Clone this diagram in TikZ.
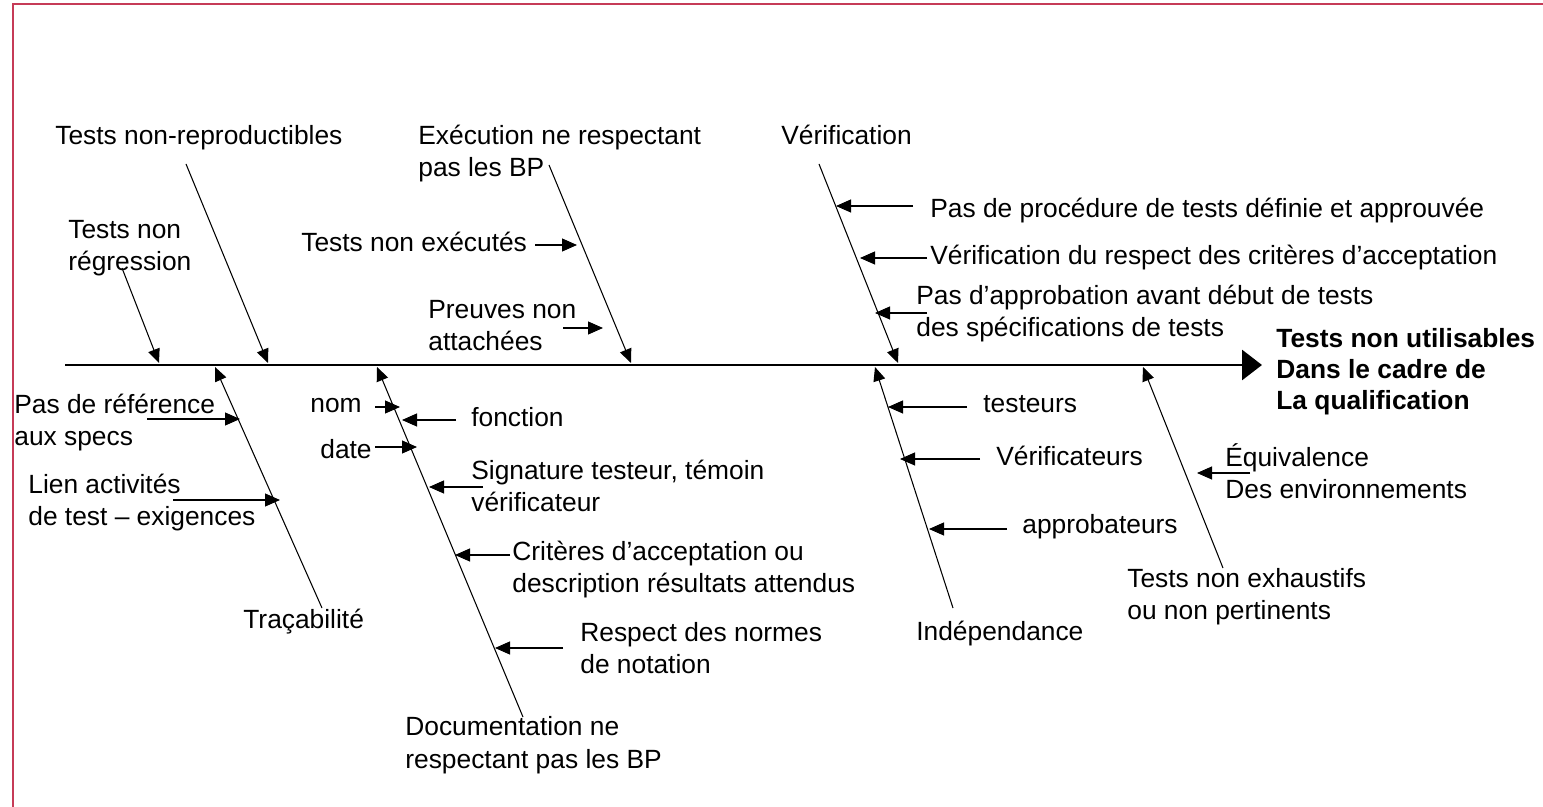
\documentclass[tikz,border=0pt]{standalone}
\usepackage{fontspec}
\setmainfont{Liberation Sans}
\usetikzlibrary{arrows.meta}
\definecolor{fishFrame}{HTML}{C63B57}
\newcommand{\causefont}{\fontsize{15}{18.7}\selectfont}
\newcommand{\effectfont}{\fontsize{15}{17.9}\selectfont\bfseries}
\tikzset{
  cause/.style={anchor=base west,inner sep=0pt,align=left,font=\causefont},
  effect/.style={anchor=base west,inner sep=0pt,align=left,font=\effectfont},
  bone/.style={-{Triangle[length=0.28cm,width=0.24cm]},line width=0.6pt},
  twig/.style={-{Triangle[length=0.3cm,width=0.26cm]},line width=0.6pt},
  spine/.style={-{Triangle[length=0.4cm,width=0.6cm]},line width=1.7pt},
  frame/.style={draw=fishFrame,line width=1.1pt}
}

\begin{document}
\begin{tikzpicture}[x=0.02cm,y=-0.02cm]
  \useasboundingbox (0,0) rectangle (1543,807);
  \draw[frame] (13,807) -- (13,4) -- (1543,4);

  % spine and effect
  \coordinate (tail) at (65,365);
  \coordinate (head) at (1262,365);
  \draw[spine] (tail) -- (head);
  \node[effect] (effet) at (1276,410) {Tests non utilisables\\Dans le cadre de\\La qualification};

  % upper causes
  \node[cause] (nonregr) at (68,271) {Tests non\\régression};
  \node[cause] (nonrepro) at (55,145) {Tests non-reproductibles};
  \node[cause] (execution) at (418,177) {Exécution ne respectant\\pas les BP};
  \node[cause] (nonexec) at (301,252) {Tests non exécutés};
  \node[cause] (preuves) at (428,351) {Preuves non\\attachées};
  \node[cause] (verif) at (781,145) {Vérification};
  \node[cause] (procedure) at (930,218) {Pas de procédure de tests définie et approuvée};
  \node[cause] (respect) at (930,265) {Vérification du respect des critères d’acceptation};
  \node[cause] (approbation) at (916,337) {Pas d’approbation avant début de tests\\des spécifications de tests};

  % lower causes
  \node[cause] (reference) at (14,446) {Pas de référence\\aux specs};
  \node[cause] (lien) at (28,526) {Lien activités\\de test – exigences};
  \node[cause] (tracabilite) at (243,629) {Traçabilité};
  \node[cause] (nom) at (310,413) {nom};
  \node[cause] (date) at (320,459) {date};
  \node[cause] (fonction) at (471,427) {fonction};
  \node[cause] (signature) at (471,512) {Signature testeur, témoin\\vérificateur};
  \node[cause] (criteres) at (512,593) {Critères d’acceptation ou\\description résultats attendus};
  \node[cause] (normes) at (580,674) {Respect des normes\\de notation};
  \node[cause] (documentation) at (405,768) {Documentation ne\\respectant pas les BP};
  \node[cause] (testeurs) at (983,413) {testeurs};
  \node[cause] (verificateurs) at (996,466) {Vérificateurs};
  \node[cause] (approbateurs) at (1022,534) {approbateurs};
  \node[cause] (independance) at (916,641) {Indépendance};
  \node[cause] (equivalence) at (1225,499) {Équivalence\\Des environnements};
  \node[cause] (exhaustifs) at (1127,620) {Tests non exhaustifs\\ou non pertinents};

  % bones
  \coordinate (regrA) at (122,268);   \coordinate (regrB) at (159,363);
  \coordinate (reproA) at (186,164);  \coordinate (reproB) at (268,363);
  \coordinate (execA) at (549,165);   \coordinate (execB) at (631,363);
  \coordinate (verifA) at (819,164);  \coordinate (verifB) at (898,363);
  \coordinate (tracA) at (322,608);   \coordinate (tracB) at (215,367);
  \coordinate (docA) at (523,717);    \coordinate (docB) at (377,367);
  \coordinate (indepA) at (953,608);  \coordinate (indepB) at (875,367);
  \coordinate (exhA) at (1223,568);   \coordinate (exhB) at (1143,367);
  \draw[bone] (regrA) -- (regrB);
  \draw[bone] (reproA) -- (reproB);
  \draw[bone] (execA) -- (execB);
  \draw[bone] (verifA) -- (verifB);
  \draw[bone] (tracA) -- (tracB);
  \draw[bone] (docA) -- (docB);
  \draw[bone] (indepA) -- (indepB);
  \draw[bone] (exhA) -- (exhB);

  % twigs
  \coordinate (nonexecA) at (535,245);  \coordinate (nonexecB) at (577,245);
  \coordinate (preuvesA) at (563,328);  \coordinate (preuvesB) at (603,328);
  \coordinate (procA) at (913,206);     \coordinate (procB) at (836,206);
  \coordinate (respA) at (927,258);     \coordinate (respB) at (860,258);
  \coordinate (approA) at (927,313);    \coordinate (approB) at (875,313);
  \coordinate (refA) at (147,419);      \coordinate (refB) at (240,419);
  \coordinate (lienA) at (173,500);     \coordinate (lienB) at (280,500);
  \coordinate (nomA) at (375,407);      \coordinate (nomB) at (400,407);
  \coordinate (fonctA) at (456,420);    \coordinate (fonctB) at (402,420);
  \coordinate (dateA) at (375,447);     \coordinate (dateB) at (417,447);
  \coordinate (signA) at (483,487);     \coordinate (signB) at (429,487);
  \coordinate (critA) at (510,555);     \coordinate (critB) at (455,555);
  \coordinate (normA) at (563,648);     \coordinate (normB) at (495,648);
  \coordinate (testA) at (967,407);     \coordinate (testB) at (888,407);
  \coordinate (verA) at (980,459);      \coordinate (verB) at (900,459);
  \coordinate (appA) at (1007,529);     \coordinate (appB) at (929,529);
  \coordinate (equivA) at (1250,473);   \coordinate (equivB) at (1197,473);
  \draw[twig] (nonexecA) -- (nonexecB);
  \draw[twig] (preuvesA) -- (preuvesB);
  \draw[twig] (procA) -- (procB);
  \draw[twig] (respA) -- (respB);
  \draw[twig] (approA) -- (approB);
  \draw[twig] (refA) -- (refB);
  \draw[twig] (lienA) -- (lienB);
  \draw[twig] (nomA) -- (nomB);
  \draw[twig] (fonctA) -- (fonctB);
  \draw[twig] (dateA) -- (dateB);
  \draw[twig] (signA) -- (signB);
  \draw[twig] (critA) -- (critB);
  \draw[twig] (normA) -- (normB);
  \draw[twig] (testA) -- (testB);
  \draw[twig] (verA) -- (verB);
  \draw[twig] (appA) -- (appB);
  \draw[twig] (equivA) -- (equivB);
\end{tikzpicture}
\end{document}
